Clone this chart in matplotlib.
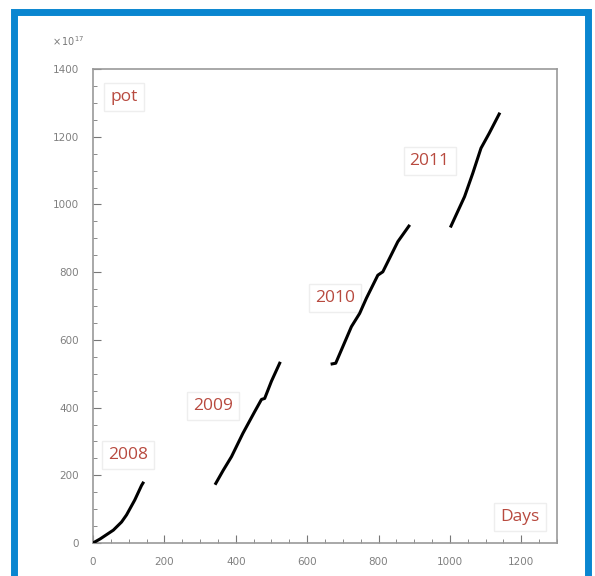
import matplotlib.pyplot as plt
from matplotlib.patches import Rectangle
from matplotlib.ticker import MultipleLocator

# accumulated pot (x 10^17) vs days, one run per year
days_2008 = [0, 20, 57, 80, 94, 117, 136, 140]
pot_2008 = [0, 12, 38, 62, 83, 127, 170, 177]
days_2009 = [344, 365, 388, 420, 453, 472, 481, 500, 523]
pot_2009 = [176, 215, 255, 324, 388, 424, 427, 478, 531]
days_2010 = [670, 680, 724, 747, 766, 798, 812, 854, 885]
pot_2010 = [529, 531, 639, 678, 723, 791, 801, 890, 936]
days_2011 = [1003, 1013, 1041, 1064, 1087, 1110, 1138]
pot_2011 = [936, 959, 1023, 1092, 1166, 1210, 1267]

years = ['2008', '2009', '2010', '2011']
label_pos = [(42, 260), (280, 404), (621, 723), (887, 1128)]

fig = plt.figure(figsize=(5.95, 5.76), dpi=100)
fig.patches.append(Rectangle((14/595, -0.1), (588-14)/595, 1.1 - 12/576,
                             transform=fig.transFigure, fill=False,
                             edgecolor='#0a86d0', linewidth=5))
ax = fig.add_axes([93/595, 1 - 543/576, (557-93)/595, (543-69)/576])

for d, p in [(days_2008, pot_2008), (days_2009, pot_2009),
             (days_2010, pot_2010), (days_2011, pot_2011)]:
    ax.plot(d, p, color='black', linewidth=2.2, zorder=3)

ax.set_xlim(0, 1300)
ax.set_ylim(0, 1400)
ax.xaxis.set_major_locator(MultipleLocator(200))
ax.xaxis.set_minor_locator(MultipleLocator(50))
ax.yaxis.set_major_locator(MultipleLocator(200))
ax.yaxis.set_minor_locator(MultipleLocator(50))
ax.tick_params(which='major', direction='in', length=6, color='#777777',
               labelsize=7.5, labelcolor='#808080', pad=10)
ax.tick_params(which='minor', direction='in', length=3, color='#777777')
for s in ax.spines.values():
    s.set_color('#999999')
    s.set_linewidth(1.2)

box = dict(boxstyle='square,pad=0.35', facecolor='white', edgecolor='#eeeeee')
for yr, (x, y) in zip(years, label_pos):
    ax.text(x, y, yr, color='#b84a3f', fontsize=12.5, family='Open Sans',
            va='center', bbox=box, zorder=1)
ax.text(48, 1317, 'pot', color='#b84a3f', fontsize=12.5, family='Open Sans',
        va='center', bbox=box, zorder=1)
ax.text(1141, 77, 'Days', color='#b84a3f', fontsize=12.5, family='Open Sans',
        va='center', bbox=box, zorder=1)

fig.text(52/595, 1 - 46/576, r'$\times\,10^{17}$', color='#777777', fontsize=7)

fig.savefig('out.png', dpi=100)
